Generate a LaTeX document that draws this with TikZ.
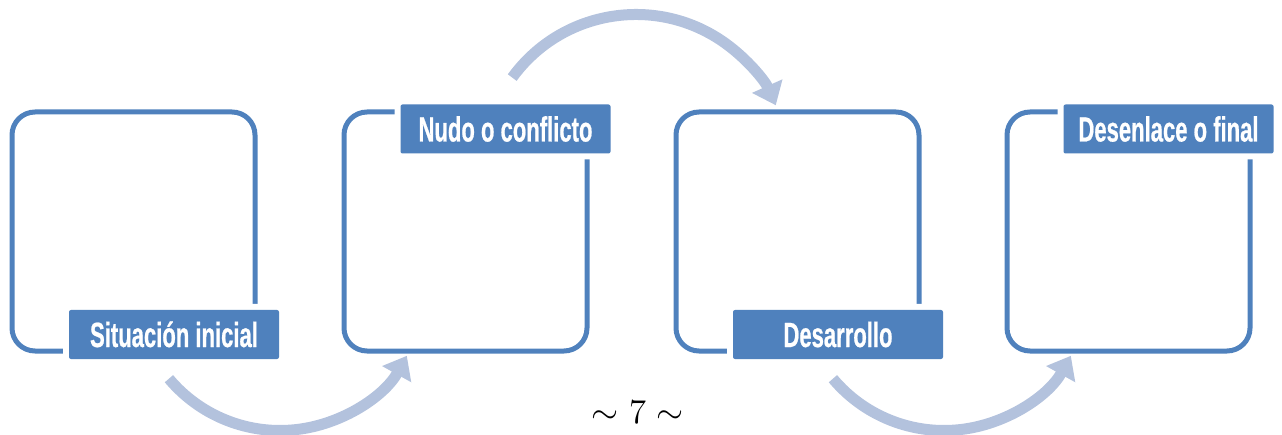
\documentclass[tikz,border=0pt]{standalone}
\usepackage{fontspec}
\newfontfamily\lblfont[FakeStretch=0.63,FakeBold=0.6]{Liberation Sans}
\usetikzlibrary{arrows.meta,calc}
\definecolor{boxblue}{RGB}{79,129,189}
\definecolor{arrowblue}{RGB}{179,194,221}
\begin{document}
\begin{tikzpicture}[x=1pt,y=1pt,
  framebox/.style={draw=boxblue, line width=5pt, rounded corners=23pt,
    minimum width=243pt, minimum height=239pt, inner sep=0pt},
  tag/.style={fill=boxblue, rounded corners=2pt, minimum width=210pt,
    minimum height=49pt, inner sep=0pt, text=white, text height=25pt, text depth=0pt,
    font=\lblfont\bfseries\fontsize{35}{40}\selectfont,
    preaction={draw=white, line width=12pt}},
  bendarrow/.style={draw=arrowblue, line width=11pt,
    -{Triangle[length=21pt,width=32pt]}}]
\useasboundingbox (0,0) rectangle (1282,434);

% frames
\node[framebox] (b1) at (133.5,202.5) {};
\node[framebox] (b2) at (465.5,202.5) {};
\node[framebox] (b3) at (797.5,202.5) {};
\node[framebox] (b4) at (1128.5,202.5) {};

% curved arrows
\coordinate (a1s) at ($(b1.south)+(146.5,68)+(220:145)$);
\coordinate (a2s) at ($(b2.north)+(170.5,-58)+(144:153)$);
\coordinate (a3s) at ($(b3.south)+(146.5,68)+(220:145)$);
\draw[bendarrow] (a1s) arc[start angle=220, end angle=331, radius=145];
\draw[bendarrow] (a2s) arc[start angle=144, end angle=24, radius=153];
\draw[bendarrow] (a3s) arc[start angle=220, end angle=331, radius=145];

% labels
\node[tag] (l1) at ($(b1.south)+(40.5,19)$) {Situación inicial};
\node[tag] (l2) at ($(b2.north)+(40,-19.5)$) {Nudo o conflicto};
\node[tag] (l3) at ($(b3.south)+(40.5,19)$) {Desarrollo};
\node[tag] (l4) at ($(b4.north)+(40,-19.5)$) {Desenlace o final};

% page number
\node[anchor=base, inner sep=0pt] (pg) at (638,11) {\scalebox{2.9}{\fontsize{12}{14}\selectfont$\sim$\hspace{3.6pt}7\hspace{3.6pt}$\sim$}};
\end{tikzpicture}
\end{document}
